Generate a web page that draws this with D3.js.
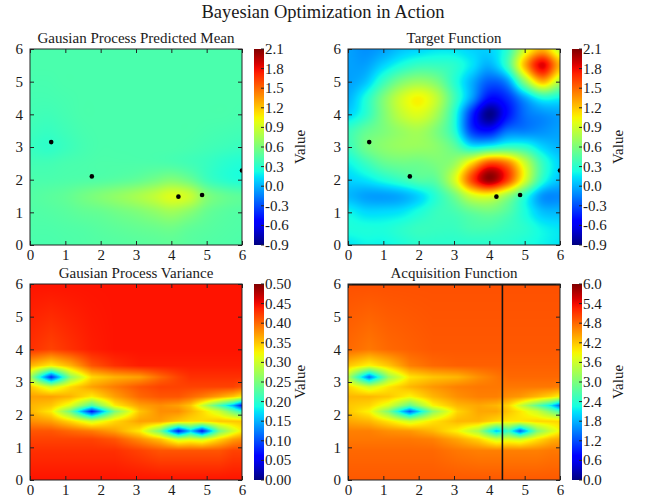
<!DOCTYPE html>
<html>
<head>
<meta charset="utf-8">
<script src="https://cdn.jsdelivr.net/npm/d3@7"></script>
<style>
  body { margin: 0; background: #fff; }
  text { font-family: "Liberation Serif", "Times New Roman", serif; fill: #1a1a1a; }
</style>
</head>
<body>
<div id="chart-area"></div>
<script>
// ---- data ----
const obsX = [0.6, 1.75, 4.2, 4.87, 6.0];
const obsY = [3.15, 2.1, 1.48, 1.53, 2.28];
const nextX = 4.37;
const nextY = 6.0;

// regular 0.5 grid (rows from y=6 down to y=0)
const regX = [0, 0.5, 1, 1.5, 2, 2.5, 3, 3.5, 4, 4.5, 5, 5.5, 6];
const regY = [6, 5.5, 5, 4.5, 4, 3.5, 3, 2.5, 2, 1.5, 1, 0.5, 0];

const meanGrid = [
  [0.42, 0.42, 0.42, 0.42, 0.42, 0.42, 0.42, 0.42, 0.42, 0.42, 0.42, 0.42, 0.42],
  [0.42, 0.42, 0.42, 0.42, 0.42, 0.42, 0.42, 0.42, 0.42, 0.42, 0.42, 0.42, 0.42],
  [0.41, 0.41, 0.42, 0.42, 0.42, 0.42, 0.42, 0.42, 0.42, 0.42, 0.42, 0.42, 0.42],
  [0.40, 0.40, 0.41, 0.42, 0.42, 0.42, 0.42, 0.42, 0.42, 0.42, 0.42, 0.42, 0.42],
  [0.39, 0.38, 0.40, 0.42, 0.42, 0.42, 0.42, 0.42, 0.42, 0.42, 0.42, 0.42, 0.41],
  [0.37, 0.35, 0.38, 0.41, 0.42, 0.42, 0.42, 0.42, 0.42, 0.42, 0.41, 0.40, 0.39],
  [0.35, 0.32, 0.36, 0.40, 0.42, 0.42, 0.42, 0.42, 0.42, 0.41, 0.39, 0.37, 0.35],
  [0.39, 0.39, 0.41, 0.42, 0.43, 0.43, 0.43, 0.43, 0.42, 0.39, 0.35, 0.30, 0.27],
  [0.42, 0.42, 0.43, 0.44, 0.45, 0.47, 0.50, 0.56, 0.62, 0.54, 0.38, 0.30, 0.26],
  [0.45, 0.47, 0.50, 0.56, 0.62, 0.68, 0.75, 0.84, 0.95, 0.88, 0.62, 0.52, 0.48],
  [0.44, 0.45, 0.47, 0.50, 0.52, 0.56, 0.60, 0.66, 0.72, 0.64, 0.52, 0.47, 0.45],
  [0.43, 0.43, 0.44, 0.45, 0.47, 0.49, 0.51, 0.53, 0.55, 0.50, 0.47, 0.45, 0.44],
  [0.42, 0.42, 0.43, 0.44, 0.45, 0.46, 0.47, 0.48, 0.49, 0.47, 0.45, 0.44, 0.43]
];

const targetGrid = [
  [-0.05, -0.10, -0.05, 0.05, 0.10, 0.15, 0.15, 0.10, 0.10, 0.30, 0.90, 1.25, 0.85],
  [-0.05, -0.05, 0.10, 0.25, 0.35, 0.35, 0.30, 0.15, 0.00, 0.35, 1.25, 1.85, 1.25],
  [-0.05, 0.05, 0.35, 0.60, 0.70, 0.60, 0.30, 0.00, -0.25, -0.10, 0.65, 1.25, 0.80],
  [0.00, 0.25, 0.60, 0.90, 1.05, 0.85, 0.40, -0.05, -0.50, -0.40, -0.05, 0.25, 0.20],
  [0.10, 0.30, 0.60, 0.85, 0.95, 0.75, 0.30, -0.40, -0.88, -0.50, -0.20, -0.10, -0.05],
  [0.35, 0.50, 0.60, 0.70, 0.75, 0.60, 0.30, -0.35, -0.50, -0.20, -0.15, -0.10, -0.05],
  [0.35, 0.55, 0.65, 0.70, 0.70, 0.65, 0.50, 0.20, 0.25, 0.35, 0.30, 0.10, 0.00],
  [0.20, 0.35, 0.50, 0.55, 0.55, 0.60, 0.70, 1.15, 1.60, 1.45, 0.90, 0.35, 0.10],
  [0.10, 0.15, 0.25, 0.35, 0.45, 0.50, 0.90, 1.60, 2.05, 1.65, 0.95, 0.30, 0.05],
  [0.02, -0.05, -0.06, -0.02, 0.10, 0.30, 0.55, 0.90, 0.97, 0.70, 0.30, -0.08, -0.12],
  [0.20, 0.12, 0.12, 0.15, 0.25, 0.35, 0.40, 0.50, 0.55, 0.45, 0.25, 0.05, 0.02],
  [0.25, 0.25, 0.25, 0.30, 0.35, 0.35, 0.35, 0.40, 0.40, 0.35, 0.30, 0.20, 0.15],
  [0.15, 0.20, 0.20, 0.25, 0.30, 0.30, 0.30, 0.30, 0.30, 0.30, 0.25, 0.20, 0.15]
];

// uneven grid through the sampled points (rows from y=6 down to y=0)
const sampX = [0, 0.6, 1.15, 1.75, 2.4, 3.1, 3.7, 4.2, 4.55, 4.87, 5.35, 5.75, 6];
const sampY = [6, 4.0, 3.5, 3.15, 2.85, 2.55, 2.28, 2.1, 1.8, 1.5, 1.25, 0.9, 0];

const varGrid = [
  [0.445, 0.445, 0.445, 0.445, 0.445, 0.445, 0.445, 0.445, 0.445, 0.445, 0.445, 0.445, 0.445],
  [0.43, 0.42, 0.43, 0.44, 0.445, 0.445, 0.445, 0.445, 0.445, 0.445, 0.445, 0.445, 0.445],
  [0.36, 0.33, 0.36, 0.41, 0.43, 0.44, 0.44, 0.44, 0.44, 0.44, 0.44, 0.44, 0.44],
  [0.28, 0.08, 0.26, 0.34, 0.36, 0.37, 0.40, 0.42, 0.43, 0.43, 0.43, 0.43, 0.43],
  [0.35, 0.30, 0.34, 0.37, 0.39, 0.41, 0.42, 0.42, 0.42, 0.42, 0.42, 0.42, 0.41],
  [0.37, 0.37, 0.36, 0.33, 0.37, 0.40, 0.41, 0.41, 0.40, 0.39, 0.37, 0.35, 0.33],
  [0.36, 0.35, 0.31, 0.22, 0.33, 0.37, 0.38, 0.37, 0.35, 0.30, 0.22, 0.15, 0.07],
  [0.36, 0.33, 0.24, 0.07, 0.25, 0.35, 0.38, 0.38, 0.36, 0.34, 0.30, 0.24, 0.20],
  [0.38, 0.37, 0.34, 0.30, 0.34, 0.37, 0.37, 0.35, 0.34, 0.34, 0.35, 0.35, 0.35],
  [0.41, 0.41, 0.40, 0.39, 0.37, 0.33, 0.24, 0.07, 0.16, 0.07, 0.24, 0.30, 0.33],
  [0.42, 0.42, 0.42, 0.42, 0.41, 0.38, 0.35, 0.30, 0.31, 0.30, 0.34, 0.37, 0.38],
  [0.43, 0.43, 0.43, 0.43, 0.43, 0.42, 0.41, 0.41, 0.41, 0.41, 0.41, 0.42, 0.42],
  [0.445, 0.445, 0.445, 0.445, 0.445, 0.445, 0.445, 0.445, 0.445, 0.445, 0.445, 0.445, 0.445]
];

const acqGrid = [
  [4.95, 4.95, 4.95, 4.95, 4.95, 4.95, 4.95, 4.95, 4.95, 4.95, 4.95, 4.95, 4.95],
  [4.80, 4.70, 4.80, 4.85, 4.90, 4.90, 4.90, 4.90, 4.90, 4.90, 4.90, 4.90, 4.90],
  [4.20, 3.90, 4.20, 4.65, 4.80, 4.85, 4.85, 4.85, 4.85, 4.85, 4.85, 4.85, 4.85],
  [3.40, 1.40, 3.20, 4.00, 4.20, 4.30, 4.55, 4.70, 4.80, 4.80, 4.80, 4.80, 4.80],
  [4.10, 3.60, 4.00, 4.30, 4.50, 4.65, 4.70, 4.70, 4.70, 4.70, 4.70, 4.70, 4.65],
  [4.30, 4.30, 4.20, 3.90, 4.30, 4.55, 4.65, 4.65, 4.55, 4.50, 4.30, 4.10, 3.90],
  [4.20, 4.10, 3.70, 2.80, 3.90, 4.30, 4.40, 4.30, 4.10, 3.60, 2.80, 2.10, 1.30],
  [4.20, 3.90, 3.00, 1.30, 3.10, 4.10, 4.40, 4.40, 4.20, 4.00, 3.60, 3.00, 2.60],
  [4.40, 4.30, 4.00, 3.60, 4.00, 4.30, 4.30, 4.10, 4.00, 4.00, 4.10, 4.10, 4.10],
  [4.65, 4.65, 4.55, 4.50, 4.30, 3.90, 3.30, 1.90, 2.50, 1.30, 3.00, 3.60, 3.90],
  [4.70, 4.70, 4.70, 4.70, 4.65, 4.40, 4.10, 3.60, 3.70, 3.60, 4.00, 4.30, 4.40],
  [4.80, 4.80, 4.80, 4.80, 4.80, 4.70, 4.65, 4.65, 4.65, 4.65, 4.65, 4.70, 4.70],
  [4.90, 4.90, 4.90, 4.90, 4.90, 4.90, 4.90, 4.90, 4.90, 4.90, 4.90, 4.90, 4.90]
];

const axisTicks = [0, 1, 2, 3, 4, 5, 6];
const valueTicks = [-0.9, -0.6, -0.3, 0.0, 0.3, 0.6, 0.9, 1.2, 1.5, 1.8, 2.1];
const varTicks = [0.00, 0.05, 0.10, 0.15, 0.20, 0.25, 0.30, 0.35, 0.40, 0.45, 0.50];
const acqTicks = [0.0, 0.6, 1.2, 1.8, 2.4, 3.0, 3.6, 4.2, 4.8, 5.4, 6.0];

// ---- layout ----
const width = 650, height = 498;
const W = 212, H = 196;
const serif = '"Liberation Serif", "Times New Roman", serif';

const panels = [
  {title: 'Gausian Process Predicted Mean', left: 30, top: 49, xs: regX, ys: regY, grid: meanGrid, cubic: true, ticks: valueTicks, digits: 1, dots: true},
  {title: 'Target Function', left: 348, top: 49, xs: regX, ys: regY, grid: targetGrid, cubic: true, ticks: valueTicks, digits: 1, dots: true},
  {title: 'Gausian Process Variance', left: 30, top: 284, xs: sampX, ys: sampY, grid: varGrid, cubic: false, ticks: varTicks, digits: 2},
  {title: 'Acquisition Function', left: 348, top: 284, xs: sampX, ys: sampY, grid: acqGrid, cubic: false, ticks: acqTicks, digits: 1, next: true}
];

// jet colormap
const jetR = d3.scaleLinear().domain([0, 0.35, 0.66, 0.89, 1]).range([0, 0, 1, 1, 0.5]).clamp(true);
const jetG = d3.scaleLinear().domain([0, 0.125, 0.375, 0.64, 0.91, 1]).range([0, 0, 1, 1, 0, 0]).clamp(true);
const jetB = d3.scaleLinear().domain([0, 0.11, 0.34, 0.65, 1]).range([0.5, 1, 1, 0, 0]).clamp(true);
const jet = t => [jetR(t) * 255, jetG(t) * 255, jetB(t) * 255];

function sampler(xs, ys, grid, cubic) {
  const ix = d3.scaleLinear().domain(xs).range(d3.range(xs.length)).clamp(true);
  const iy = d3.scaleLinear().domain(ys).range(d3.range(ys.length)).clamp(true);
  const nx = xs.length, ny = ys.length;
  const at = (r, c) => grid[Math.max(0, Math.min(ny - 1, r))][Math.max(0, Math.min(nx - 1, c))];
  const cr = (p0, p1, p2, p3, t) =>
    p1 + 0.5 * t * (p2 - p0 + t * (2 * p0 - 5 * p1 + 4 * p2 - p3 + t * (3 * (p1 - p2) + p3 - p0)));
  return (x, y) => {
    const fx = ix(x), fy = iy(y);
    const c0 = Math.floor(fx), r0 = Math.floor(fy);
    const tx = fx - c0, ty = fy - r0;
    if (!cubic) {
      return (at(r0, c0) * (1 - tx) + at(r0, c0 + 1) * tx) * (1 - ty)
           + (at(r0 + 1, c0) * (1 - tx) + at(r0 + 1, c0 + 1) * tx) * ty;
    }
    const rows = [-1, 0, 1, 2].map(k =>
      cr(at(r0 + k, c0 - 1), at(r0 + k, c0), at(r0 + k, c0 + 1), at(r0 + k, c0 + 2), tx));
    return cr(rows[0], rows[1], rows[2], rows[3], ty);
  };
}

const svg = d3.select('#chart-area')
  .append('svg')
  .attr('width', width)
  .attr('height', height);

svg.append('text')
  .attr('x', width / 2 - 2)
  .attr('y', 18)
  .attr('text-anchor', 'middle')
  .attr('font-size', '18.5px')
  .text('Bayesian Optimization in Action');

const defs = svg.append('defs');

panels.forEach((p, i) => {
  const g = svg.append('g').attr('transform', `translate(${p.left}, ${p.top})`);

  const x = d3.scaleLinear().domain([0, 6]).range([0, W]);
  const y = d3.scaleLinear().domain([0, 6]).range([H, 0]);
  const norm = d3.scaleLinear().domain(d3.extent(p.ticks)).range([0, 1]).clamp(true);
  const f = sampler(p.xs, p.ys, p.grid, p.cubic);

  // heat map pixels
  const canvas = document.createElement('canvas');
  canvas.width = W;
  canvas.height = H;
  const ctx = canvas.getContext('2d');
  const img = ctx.createImageData(W, H);
  for (let py = 0; py < H; py++) {
    const yv = y.invert(py + 0.5);
    for (let px = 0; px < W; px++) {
      const c = jet(norm(f(x.invert(px + 0.5), yv)));
      const k = (py * W + px) * 4;
      img.data[k] = c[0];
      img.data[k + 1] = c[1];
      img.data[k + 2] = c[2];
      img.data[k + 3] = 255;
    }
  }
  ctx.putImageData(img, 0, 0);

  g.append('image')
    .attr('href', canvas.toDataURL())
    .attr('width', W)
    .attr('height', H)
    .attr('preserveAspectRatio', 'none');

  defs.append('clipPath').attr('id', `clip${i}`)
    .append('rect').attr('width', W).attr('height', H);

  const marks = g.append('g').attr('clip-path', `url(#clip${i})`);

  if (p.dots) {
    marks.selectAll('circle')
      .data(obsX.map((d, j) => [d, obsY[j]]))
      .enter()
      .append('circle')
      .attr('cx', d => x(d[0]))
      .attr('cy', d => y(d[1]))
      .attr('r', 2.3)
      .attr('fill', '#000');
  }

  if (p.next) {
    marks.append('line')
      .attr('x1', x(nextX)).attr('x2', x(nextX))
      .attr('y1', 0).attr('y2', H)
      .attr('stroke', '#111').attr('stroke-width', 1.6);
    marks.append('line')
      .attr('x1', 0).attr('x2', W)
      .attr('y1', y(nextY)).attr('y2', y(nextY))
      .attr('stroke', '#111').attr('stroke-width', 3);
  }

  // axes, ticks pointing inwards on all four sides
  const axes = [
    [d3.axisBottom(x), `translate(0, ${H})`, true, 4],
    [d3.axisLeft(y), 'translate(0, 0)', true, 7],
    [d3.axisTop(x), 'translate(0, 0)', false, 0],
    [d3.axisRight(y), `translate(${W}, 0)`, false, 0]
  ];
  axes.forEach(([ax, tr, labels, pad]) => {
    ax.tickValues(axisTicks).tickSize(-4).tickPadding(pad)
      .tickFormat(labels ? d3.format('d') : '');
    const a = g.append('g').attr('transform', tr).call(ax);
    a.attr('font-family', null);
    a.select('.domain').remove();
    a.selectAll('line').attr('stroke', '#222');
    a.selectAll('text')
      .attr('font-size', '15px')
      .style('font-family', serif)
      .attr('fill', '#1a1a1a');
  });

  g.append('rect')
    .attr('width', W)
    .attr('height', H)
    .attr('fill', 'none')
    .attr('stroke', '#222')
    .attr('stroke-width', 1);

  g.append('text')
    .attr('x', W / 2)
    .attr('y', -6)
    .attr('text-anchor', 'middle')
    .attr('font-size', '15px')
    .text(p.title);

  // colour bar
  const gradId = `grad${i}`;
  const grad = defs.append('linearGradient')
    .attr('id', gradId)
    .attr('x1', 0).attr('y1', 1).attr('x2', 0).attr('y2', 0);
  d3.range(0, 1.0001, 0.025).forEach(t => {
    const c = jet(t);
    grad.append('stop')
      .attr('offset', t)
      .attr('stop-color', d3.rgb(c[0], c[1], c[2]).formatHex());
  });

  const cb = g.append('g').attr('transform', `translate(${224}, 0)`);
  const cbScale = d3.scaleLinear().domain(d3.extent(p.ticks)).range([H, 0]);
  cb.append('rect')
    .attr('width', 10)
    .attr('height', H)
    .attr('fill', `url(#${gradId})`);

  cb.selectAll('line.cbtick')
    .data(p.ticks)
    .enter()
    .append('line')
    .attr('class', 'cbtick')
    .attr('x1', 7).attr('x2', 10)
    .attr('y1', d => cbScale(d)).attr('y2', d => cbScale(d))
    .attr('stroke', '#222');

  cb.selectAll('text')
    .data(p.ticks)
    .enter()
    .append('text')
    .attr('x', 11)
    .attr('y', d => cbScale(d))
    .attr('dy', '0.33em')
    .attr('font-size', '15px')
    .text(d => d.toFixed(p.digits));

  g.append('text')
    .attr('transform', `translate(${275}, ${H / 2}) rotate(-90)`)
    .attr('text-anchor', 'middle')
    .attr('font-size', '15px')
    .text('Value');
});
</script>
</body>
</html>
